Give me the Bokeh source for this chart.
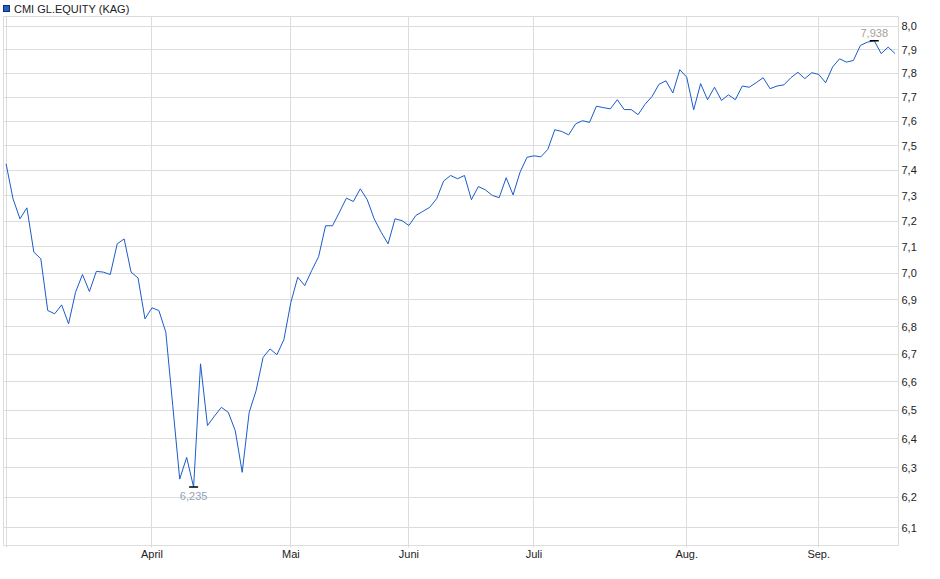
import numpy as np
from bokeh.plotting import figure
from bokeh.layouts import column
from bokeh.models import Range1d, FixedTicker, CustomJSTickFormatter, Div
from bokeh.core.properties import value
from bokeh.embed import file_html
from bokeh.resources import INLINE

series_name = "CMI GL.EQUITY (KAG)"

prices = [
    7.427, 7.288, 7.209, 7.252, 7.080, 7.055, 6.860, 6.848, 6.881, 6.811,
    6.928, 6.995, 6.931, 7.007, 7.004, 6.995, 7.112, 7.131, 7.004, 6.982,
    6.829, 6.870, 6.860, 6.780, 6.516, 6.262, 6.336, 6.235, 6.665, 6.446,
    6.479, 6.510, 6.492, 6.428, 6.285, 6.492, 6.569, 6.688, 6.719, 6.698,
    6.753, 6.890, 6.985, 6.953, 7.010, 7.063, 7.182, 7.182, 7.235, 7.290,
    7.277, 7.327, 7.284, 7.209, 7.157, 7.112, 7.209, 7.202, 7.183, 7.222,
    7.238, 7.254, 7.288, 7.358, 7.380, 7.367, 7.380, 7.284, 7.336, 7.323,
    7.301, 7.292, 7.371, 7.303, 7.393, 7.453, 7.459, 7.455, 7.485, 7.565,
    7.558, 7.544, 7.589, 7.602, 7.595, 7.662, 7.656, 7.651, 7.689, 7.648,
    7.648, 7.627, 7.670, 7.702, 7.753, 7.768, 7.717, 7.815, 7.783, 7.647,
    7.756, 7.689, 7.741, 7.686, 7.709, 7.689, 7.746, 7.741, 7.760, 7.781,
    7.735, 7.746, 7.751, 7.781, 7.804, 7.777, 7.802, 7.795, 7.760, 7.826,
    7.861, 7.847, 7.854, 7.918, 7.932, 7.938, 7.883, 7.911, 7.883,
]

month_labels = ["April", "Mai", "Juni", "Juli", "Aug.", "Sep."]
month_start_idx = [21, 41, 58, 76, 98, 117]

y_ticks = [6.1, 6.2, 6.3, 6.4, 6.5, 6.6, 6.7, 6.8, 6.9, 7.0,
           7.1, 7.2, 7.3, 7.4, 7.5, 7.6, 7.7, 7.8, 7.9, 8.0]

idx = list(range(len(prices)))
FONT = "Liberation Sans"
GRID = "#dcdcdc"
FRAME_W, FRAME_H = 895, 529
line_color = "#1a5cc8"

header = Div(
    text=('<div style="display:flex;align-items:center;height:12px;'
          'font-family:\'Liberation Sans\',Arial,sans-serif;font-size:11px;line-height:12px;color:#222222;">'
          '<span style="display:inline-block;width:7px;height:7px;background:#2162c6;'
          'border:1px solid #12306e;margin:0 4px 0 3px;"></span>'
          + series_name + '</div>'),
    width=400, height=16, margin=(0, 0, 0, 0))

p = figure(frame_width=FRAME_W, frame_height=FRAME_H, output_backend="svg", toolbar_location=None,
           y_axis_type="log", y_axis_location="right",
           x_range=Range1d(-0.37, 128.49), y_range=Range1d(6.041, 8.043),
           min_border_left=3, min_border_right=34, min_border_top=0, min_border_bottom=22,
           margin=(0, 0, 0, 0))
p.background_fill_color = "white"
p.border_fill_color = "white"
p.outline_line_color = GRID

p.line(idx, prices, line_color=line_color, line_width=1)

# extremes
arr = np.array(prices)
imin, imax = int(arr.argmin()), int(arr.argmax())
vmin, vmax = float(arr[imin]), float(arr[imax])
p.scatter([imin, imax], [vmin, vmax], marker="dash", size=9, line_color="black", line_width=1.5)
p.text([imin], [vmin], text=[f"{vmin:.3f}".replace(".", ",")], text_align="center",
       text_baseline="top", y_offset=5, text_font=value(FONT), text_font_size="11px",
       text_color="#93a3ba")
p.text([imax], [vmax], text=[f"{vmax:.3f}".replace(".", ",")], text_align="center",
       text_baseline="bottom", y_offset=-4, text_font=value(FONT), text_font_size="11px",
       text_color="#a89f96")

# x axis
p.xaxis.ticker = FixedTicker(ticks=[0] + month_start_idx)
overrides = {0: ""}
overrides.update(dict(zip(month_start_idx, month_labels)))
p.xaxis.major_label_overrides = overrides
p.xaxis.axis_line_color = GRID
p.xaxis.major_tick_line_color = GRID
p.xaxis.major_tick_out = 2
p.xaxis.major_tick_in = 0
p.xaxis.minor_tick_line_color = None
p.xaxis.major_label_standoff = 0
p.xaxis.major_label_text_font = FONT
p.xaxis.major_label_text_font_size = "11px"
p.xaxis.major_label_text_color = "#222222"

# y axis
p.yaxis.ticker = FixedTicker(ticks=y_ticks, minor_ticks=[])
p.yaxis.formatter = CustomJSTickFormatter(code="return tick.toFixed(1).replace('.', ',');")
p.yaxis.axis_line_color = GRID
p.yaxis.major_tick_out = 0
p.yaxis.major_tick_in = 0
p.yaxis.minor_tick_line_color = None
p.yaxis.major_label_standoff = 3
p.yaxis.major_label_text_font = FONT
p.yaxis.major_label_text_font_size = "11px"
p.yaxis.major_label_text_color = "#222222"

p.xgrid.grid_line_color = GRID
p.ygrid.grid_line_color = GRID

layout = column(header, p, spacing=0)
open("out.html", "w").write(file_html(layout, INLINE))
